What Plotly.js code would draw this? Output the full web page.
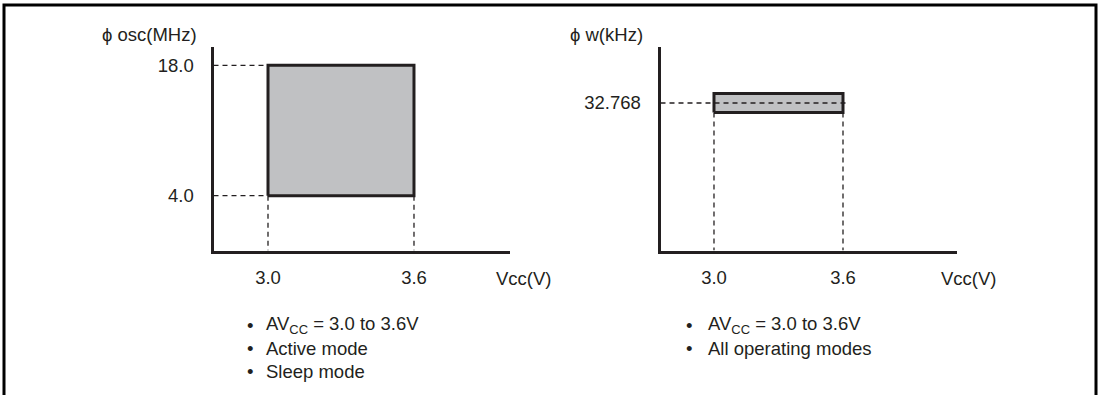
<!DOCTYPE html>
<html><head><meta charset="utf-8">
<script src="https://cdn.plot.ly/plotly-3.0.1.min.js"></script>
<style>html,body{margin:0;padding:0;background:#fff}#chart{width:1101px;height:395px}</style>
</head><body><div id="chart"></div>
<script>
// ---------- data ----------
const vccTicks = [3.0, 3.6];                 // Vcc (V)
const vccTickLabels = ['3.0', '3.6'];
const oscFreq = [4.0, 18.0];                 // ϕosc range (MHz)
const oscTickLabels = ['4.0', '18.0'];
const wFreq = [32.768];                      // ϕw (kHz)
const wTickLabels = ['32.768'];
const wBand = [30.67, 34.87];                // drawn band around 32.768 kHz
const notesLeft = ['AV<sub>CC</sub> = 3.0 to 3.6V', 'Active mode', 'Sleep mode'];
const notesRight = ['AV<sub>CC</sub> = 3.0 to 3.6V', 'All operating modes'];

// ---------- styling / layout ----------
const INK = '#231f20';
const FILL = '#c0c1c3';
const FONT = 'Liberation Sans, Arial, Helvetica, sans-serif';
const FS = 18.5;
const W = 1101, H = 395;
const px = v => v / W;
const py = v => (H - v) / H;

const xL = [2.776, 3.9946], yL = [-1.884, 19.965];
const xR = [2.7512, 4.1302], yR = [0, 45.21];

const rect = (xs, ys) => ({
  x: [xs[0], xs[1], xs[1], xs[0], xs[0]],
  y: [ys[0], ys[0], ys[1], ys[1], ys[0]]
});
const rL = rect(vccTicks, oscFreq);
const rR = rect(vccTicks, wBand);

const dashStyle = {color: INK, width: 1.3, dash: '5px,4px'};
const traces = [
  {type: 'scatter', mode: 'lines', x: rL.x, y: rL.y, xaxis: 'x', yaxis: 'y',
   fill: 'toself', fillcolor: FILL, line: {color: INK, width: 3}, hoverinfo: 'skip'},
  {type: 'scatter', mode: 'lines', xaxis: 'x', yaxis: 'y', hoverinfo: 'skip', line: dashStyle,
   x: [xL[0], vccTicks[0], null, xL[0], vccTicks[0], null, vccTicks[0], vccTicks[0], null, vccTicks[1], vccTicks[1]],
   y: [oscFreq[1], oscFreq[1], null, oscFreq[0], oscFreq[0], null, oscFreq[0], yL[0], null, oscFreq[0], yL[0]]},
  {type: 'scatter', mode: 'lines', x: rR.x, y: rR.y, xaxis: 'x2', yaxis: 'y2',
   fill: 'toself', fillcolor: FILL, line: {color: INK, width: 3}, hoverinfo: 'skip'},
  {type: 'scatter', mode: 'lines', xaxis: 'x2', yaxis: 'y2', hoverinfo: 'skip', line: dashStyle,
   x: [xR[0], vccTicks[1] + 0.012, null, vccTicks[0], vccTicks[0], null, vccTicks[1], vccTicks[1]],
   y: [wFreq[0], wFreq[0], null, wBand[0], yR[0], null, wBand[0], yR[0]]}
];

const tickfont = {family: FONT, size: FS, color: INK};
const baseAx = {showline: true, linewidth: 3, linecolor: INK, showgrid: false, zeroline: false,
  ticks: '', tickfont: tickfont, fixedrange: true};

const ann = [];
const addText = (text, x, y, xanchor) => ann.push({text, x: px(x), y: py(y), xref: 'paper', yref: 'paper',
  xanchor: xanchor || 'left', yanchor: 'middle', showarrow: false, font: {family: FONT, size: FS, color: INK}});
addText('ϕ osc(MHz)', 199, 34, 'right');
addText('ϕ w(kHz)', 645, 34, 'right');
addText('Vcc(V)', 494, 278);
addText('Vcc(V)', 939, 278);
const lineY = [325, 348, 371];
notesLeft.forEach((t, i) => { addText('•', 245, lineY[i]); addText(t, 264, lineY[i]); });
notesRight.forEach((t, i) => { addText('•', 684, lineY[i]); addText(t, 706, lineY[i]); });

const layout = {
  width: W, height: H, autosize: false, showlegend: false,
  margin: {l: 0, r: 0, t: 0, b: 0},
  paper_bgcolor: '#fff', plot_bgcolor: 'rgba(0,0,0,0)',
  font: {family: FONT, color: INK},
  xaxis: Object.assign({}, baseAx, {domain: [px(213.5), px(510)], range: xL, anchor: 'y',
    tickvals: vccTicks, ticktext: vccTickLabels, ticklabelstandoff: 8}),
  yaxis: Object.assign({}, baseAx, {domain: [py(250.5), py(47)], range: yL, anchor: 'x',
    tickvals: oscFreq, ticktext: oscTickLabels, ticklabelstandoff: 13}),
  xaxis2: Object.assign({}, baseAx, {domain: [px(660.5), px(957)], range: xR, anchor: 'y2',
    tickvals: vccTicks, ticktext: vccTickLabels, ticklabelstandoff: 8}),
  yaxis2: Object.assign({}, baseAx, {domain: [py(250.5), py(47)], range: yR, anchor: 'x2',
    tickvals: wFreq, ticktext: wTickLabels, ticklabelstandoff: 13}),
  annotations: ann,
  shapes: [{type: 'path', xref: 'paper', yref: 'paper',
    path: `M ${px(4)} -0.05 L ${px(4)} ${py(5)} L ${px(1096)} ${py(5)} L ${px(1096)} -0.05`,
    line: {color: '#000', width: 3}}]
};

Plotly.newPlot('chart', traces, layout, {staticPlot: true, displayModeBar: false});
</script></body></html>
